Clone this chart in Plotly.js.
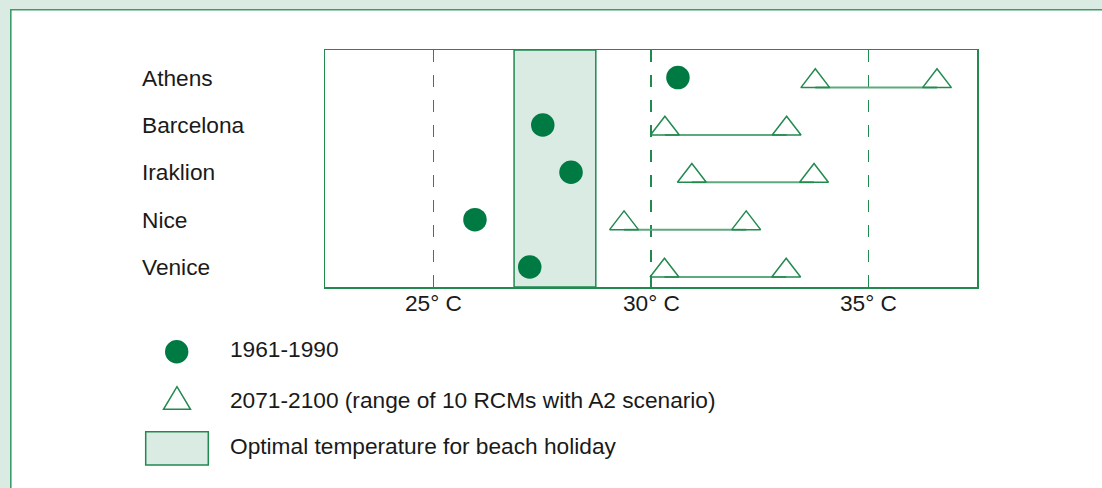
<!DOCTYPE html>
<html>
<head>
<meta charset="utf-8">
<script src="https://cdn.plot.ly/plotly-3.0.1.min.js"></script>
<style>
  html, body { margin: 0; padding: 0; background: #d9ebe3; }
  #chart { width: 1102px; height: 488px; }
</style>
</head>
<body>
<div id="chart"></div>
<script>
// ---- data ----
const cities = ["Athens", "Barcelona", "Iraklion", "Nice", "Venice"];
const temp1961_1990 = [30.62, 27.51, 28.16, 25.95, 27.21];
const rcmLow2071_2100 = [33.78, 30.32, 30.94, 29.38, 30.31];
const rcmHigh2071_2100 = [36.58, 33.12, 33.75, 32.19, 33.11];
const optimalBeachRange = [26.85, 28.73];
const xTickValues = [25, 30, 35];
const xTickLabels = ["25° C", "30° C", "35° C"];
const legendLabels = [
  "1961-1990",
  "2071-2100 (range of 10 RCMs with A2 scenario)",
  "Optimal temperature for beach holiday"
];

// ---- styling / layout constants ----
const W = 1102, H = 488;
const M = { l: 325, r: 125, t: 50, b: 201 };
const plotW = W - M.l - M.r, plotH = H - M.t - M.b;
const Y_RANGE = [4.423, -0.583];
const ROW_PX = plotH / Math.abs(Y_RANGE[0] - Y_RANGE[1]);
const TRI_SIZE = 25;
const LINE_OFF_PX = 10;              // range line below the row centre
const TRI_OFF_PX = LINE_OFF_PX - TRI_SIZE / 4; // triangle centre so its base sits on the line

const DARK = "#007a43";
const GREEN = "#22894f";
const LIGHTFILL = "#d9ebe2";
const FONT = '"Liberation Sans", Arial, Helvetica, sans-serif';
const FS = 22.7;
const TXT = "#1a1a1a";

const rows = cities.map((c, i) => i);
const px2x = p => (p - M.l) / plotW;
const py2y = p => (M.t + plotH - p) / plotH;

// range lines
const lineX = [], lineY = [];
rows.forEach(i => {
  lineX.push(rcmLow2071_2100[i], rcmHigh2071_2100[i], null);
  const y = i + LINE_OFF_PX / ROW_PX;
  lineY.push(y, y, null);
});

const triX = [], triY = [];
rows.forEach(i => {
  const y = i + TRI_OFF_PX / ROW_PX;
  triX.push(rcmLow2071_2100[i], rcmHigh2071_2100[i]);
  triY.push(y, y);
});

const traces = [
  {
    type: "scatter", mode: "lines", x: lineX, y: lineY,
    line: { color: "#5fa97f", width: 2 }, hoverinfo: "skip", showlegend: false
  },
  {
    type: "scatter", mode: "markers", x: triX, y: triY,
    name: legendLabels[1],
    marker: { symbol: "triangle-up-open", size: TRI_SIZE, color: GREEN, line: { width: 1.5, color: GREEN } },
    showlegend: false
  },
  {
    type: "scatter", mode: "markers", x: temp1961_1990, y: rows,
    name: legendLabels[0],
    marker: { symbol: "circle", size: 23.5, color: DARK, line: { width: 0 } },
    showlegend: false
  }
];

const shapes = [
  // white panel
  { type: "rect", xref: "paper", yref: "paper", layer: "below",
    x0: px2x(10.8), x1: 1.4, y0: -1.3, y1: py2y(9.8),
    fillcolor: "#ffffff", line: { color: "#3d9b69", width: 1.6 } },
  // optimal band
  { type: "rect", xref: "x", yref: "paper", layer: "below",
    x0: optimalBeachRange[0], x1: optimalBeachRange[1], y0: 0, y1: 1,
    fillcolor: LIGHTFILL, line: { color: GREEN, width: 1.5 } },
  // legend keys
  { type: "circle", xref: "paper", yref: "paper", xsizemode: "pixel", ysizemode: "pixel",
    xanchor: px2x(176.7), yanchor: py2y(351.7), x0: -11.7, x1: 11.7, y0: -11.7, y1: 11.7,
    fillcolor: DARK, line: { width: 0 } },
  { type: "path", xref: "paper", yref: "paper", xsizemode: "pixel", ysizemode: "pixel",
    xanchor: px2x(177), yanchor: py2y(398), path: "M-13.5,-11.3 L13.5,-11.3 L0,11.3 Z",
    fillcolor: "rgba(0,0,0,0)", line: { color: GREEN, width: 1.5 } },
  { type: "rect", xref: "paper", yref: "paper",
    x0: px2x(145.7), x1: px2x(208.3), y0: py2y(465), y1: py2y(431.7),
    fillcolor: LIGHTFILL, line: { color: GREEN, width: 1.5 } }
];

const annotations = [];
cities.forEach((c, i) => {
  annotations.push({ text: c, xref: "paper", yref: "y", x: px2x(140), y: i,
    xanchor: "left", yanchor: "middle", showarrow: false,
    font: { family: FONT, size: FS, color: TXT } });
});
xTickValues.forEach((v, k) => {
  annotations.push({ text: xTickLabels[k], xref: "x", yref: "paper", x: v, y: py2y(303),
    xanchor: "center", yanchor: "middle", showarrow: false,
    font: { family: FONT, size: FS, color: TXT } });
});
const legendY = [349, 400, 446];
legendLabels.forEach((t, k) => {
  annotations.push({ text: t, xref: "paper", yref: "paper", x: px2x(227.5), y: py2y(legendY[k]),
    xanchor: "left", yanchor: "middle", showarrow: false,
    font: { family: FONT, size: FS, color: TXT } });
});

const layout = {
  width: W, height: H,
  margin: M,
  paper_bgcolor: "#d9ebe3",
  plot_bgcolor: "rgba(0,0,0,0)",
  showlegend: false,
  font: { family: FONT, size: FS, color: TXT },
  xaxis: {
    range: [22.5, 37.5], tickmode: "array", tickvals: xTickValues, ticktext: xTickLabels,
    showticklabels: false,
    showgrid: true, gridcolor: GREEN, gridwidth: 1.5, griddash: "12px,13px",
    zeroline: false, showline: true, mirror: true, linecolor: GREEN, linewidth: 1.5,
    ticks: "", fixedrange: true
  },
  yaxis: {
    range: Y_RANGE, showgrid: false, zeroline: false, showticklabels: false,
    showline: true, mirror: true, linecolor: GREEN, linewidth: 1.5, ticks: "", fixedrange: true
  },
  shapes: shapes,
  annotations: annotations
};

Plotly.newPlot("chart", traces, layout, { staticPlot: true, displayModeBar: false });
</script>
</body>
</html>
